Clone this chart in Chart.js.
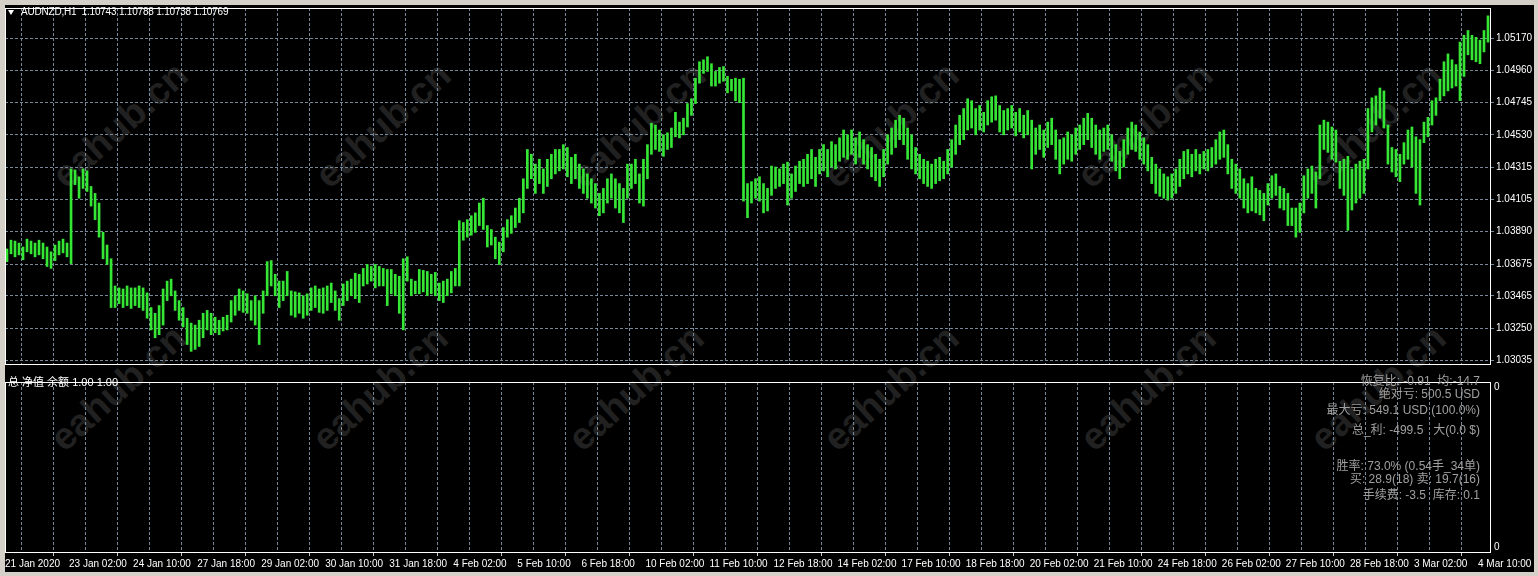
<!DOCTYPE html>
<html>
<head>
<meta charset="utf-8">
<script src="https://cdn.jsdelivr.net/npm/chart.js@4.4.0/dist/chart.umd.min.js"></script>
<style>
  html, body { margin: 0; padding: 0; }
  body { width: 1538px; height: 576px; background: #d4d0c8; position: relative; overflow: hidden; }
  #frame { position: absolute; left: 5px; top: 5px; width: 1529px; height: 567px; background: #000; }
  canvas { position: absolute; left: 0; }
  #main { top: 0; }
  #sub { top: 372px; }
  .wm { position: absolute; color: #212121; font: bold 38px 'Liberation Sans', sans-serif; transform: translate(-50%, -50%) rotate(-42deg); white-space: nowrap; }
  .txt { position: absolute; white-space: pre; line-height: 14px; }
  #tri { position: absolute; left: 8px; top: 10px; width: 0; height: 0; border-left: 3.5px solid transparent; border-right: 3.5px solid transparent; border-top: 5px solid #fff; }
  #title { left: 21px; top: 5px; color: #fff; font-size: 10px; letter-spacing: -0.2px; font-family: 'Liberation Sans', sans-serif; }
  #sublabel { left: 8px; top: 375px; color: #fff; font-size: 11px; font-family: 'Liberation Sans', 'Noto Sans CJK SC', sans-serif; }
  .info { right: 58px; text-align: right; color: #a0a0a0; font-size: 12px; font-family: 'Liberation Sans', 'Noto Sans CJK SC', sans-serif; }
</style>
</head>
<body>
<div id="frame"></div>
<div class="wm" style="left:120px;top:125px">eahub.cn</div>
<div class="wm" style="left:383px;top:125px">eahub.cn</div>
<div class="wm" style="left:638px;top:125px">eahub.cn</div>
<div class="wm" style="left:891px;top:125px">eahub.cn</div>
<div class="wm" style="left:1145px;top:125px">eahub.cn</div>
<div class="wm" style="left:1374px;top:125px">eahub.cn</div>
<div class="wm" style="left:118px;top:388px">eahub.cn</div>
<div class="wm" style="left:380px;top:388px">eahub.cn</div>
<div class="wm" style="left:636px;top:388px">eahub.cn</div>
<div class="wm" style="left:891px;top:388px">eahub.cn</div>
<div class="wm" style="left:1148px;top:388px">eahub.cn</div>
<div class="wm" style="left:1378px;top:388px">eahub.cn</div>
<canvas id="main" width="1538" height="372"></canvas>
<canvas id="sub" width="1538" height="204"></canvas>
<div id="tri"></div>
<div id="title" class="txt">AUDNZD,H1  1.10743 1.10788 1.10738 1.10769</div>
<div id="sublabel" class="txt">总 净值 余额 1.00 1.00</div>
<div class="txt info" style="top:374px">恢复比: -0.91  均:-14.7</div>
<div class="txt info" style="top:387px">绝对亏: 500.5 USD</div>
<div class="txt info" style="top:403px">最大亏: 549.1 USD (100.0%)</div>
<div class="txt info" style="top:423px">总_利: -499.5   大(0.0 $)</div>
<div class="txt info" style="top:459px">胜率: 73.0% (0.54手_34单)</div>
<div class="txt info" style="top:472px">买: 28.9(18) 卖: 19.7(16)</div>
<div class="txt info" style="top:488px">手续费: -3.5  库存: 0.1</div>
<script>
// time axis labels, one every 16 two-hour bars
const timeLabels = ['21 Jan 2020', '23 Jan 02:00', '24 Jan 10:00', '27 Jan 18:00', '29 Jan 02:00', '30 Jan 10:00',
  '31 Jan 18:00', '4 Feb 02:00', '5 Feb 10:00', '6 Feb 18:00', '10 Feb 02:00', '11 Feb 10:00', '12 Feb 18:00',
  '14 Feb 02:00', '17 Feb 10:00', '18 Feb 18:00', '20 Feb 02:00', '21 Feb 10:00', '24 Feb 18:00', '26 Feb 02:00',
  '27 Feb 10:00', '28 Feb 18:00', '3 Mar 02:00', '4 Mar 10:00'];

const priceTicks = [1.03035, 1.03250, 1.03465, 1.03675, 1.03890, 1.04105, 1.04315, 1.04530, 1.04745, 1.04960, 1.05170];

// AUDNZD bar highs / lows (2h per bar)
const barHigh = [
  1.03775, 1.03833, 1.03827, 1.03814, 1.03788, 1.03840, 1.03827, 1.03814,
  1.03833, 1.03814, 1.03788, 1.03756, 1.03801, 1.03827, 1.03840, 1.03814,
  1.04305, 1.04298, 1.04253, 1.04305, 1.04292, 1.04189, 1.04143, 1.04079,
  1.03885, 1.03801, 1.03710, 1.03530, 1.03517, 1.03510, 1.03530, 1.03517,
  1.03517, 1.03530, 1.03517, 1.03484, 1.03387, 1.03349, 1.03400, 1.03510,
  1.03562, 1.03575, 1.03497, 1.03433, 1.03387, 1.03316, 1.03284, 1.03271,
  1.03303, 1.03349, 1.03368, 1.03349, 1.03323, 1.03303, 1.03323, 1.03336,
  1.03433, 1.03465, 1.03510, 1.03497, 1.03478, 1.03433, 1.03465, 1.03433,
  1.03497, 1.03691, 1.03698, 1.03607, 1.03562, 1.03562, 1.03626, 1.03497,
  1.03491, 1.03484, 1.03465, 1.03478, 1.03517, 1.03530, 1.03510, 1.03517,
  1.03530, 1.03549, 1.03497, 1.03446, 1.03543, 1.03562, 1.03575, 1.03614,
  1.03607, 1.03646, 1.03672, 1.03659, 1.03672, 1.03659, 1.03646, 1.03639,
  1.03639, 1.03607, 1.03594, 1.03710, 1.03723, 1.03575, 1.03562, 1.03639,
  1.03633, 1.03626, 1.03607, 1.03620, 1.03549, 1.03562, 1.03575, 1.03626,
  1.03646, 1.03962, 1.03950, 1.03969, 1.03995, 1.04014, 1.04079, 1.04111,
  1.03930, 1.03904, 1.03853, 1.03820, 1.03917, 1.03969, 1.03995, 1.04046,
  1.04111, 1.04240, 1.04434, 1.04402, 1.04337, 1.04369, 1.04305, 1.04369,
  1.04402, 1.04434, 1.04434, 1.04466, 1.04447, 1.04382, 1.04402, 1.04337,
  1.04305, 1.04272, 1.04240, 1.04208, 1.04143, 1.04176, 1.04240, 1.04272,
  1.04240, 1.04208, 1.04176, 1.04337, 1.04337, 1.04369, 1.04272, 1.04369,
  1.04466, 1.04608, 1.04596, 1.04563, 1.04531, 1.04544, 1.04576, 1.04680,
  1.04615, 1.04641, 1.04738, 1.04770, 1.04906, 1.05015, 1.05028, 1.05048,
  1.05002, 1.04951, 1.04977, 1.04983, 1.04918, 1.04899, 1.04906, 1.04899,
  1.04906, 1.04208, 1.04221, 1.04240, 1.04253, 1.04208, 1.04176, 1.04324,
  1.04318, 1.04305, 1.04337, 1.04350, 1.04272, 1.04324, 1.04356, 1.04369,
  1.04402, 1.04434, 1.04382, 1.04434, 1.04466, 1.04434, 1.04486, 1.04466,
  1.04511, 1.04563, 1.04531, 1.04563, 1.04511, 1.04550, 1.04499, 1.04466,
  1.04447, 1.04402, 1.04369, 1.04434, 1.04531, 1.04576, 1.04628, 1.04660,
  1.04641, 1.04576, 1.04531, 1.04447, 1.04402, 1.04369, 1.04356, 1.04337,
  1.04369, 1.04382, 1.04356, 1.04434, 1.04499, 1.04596, 1.04660, 1.04705,
  1.04770, 1.04757, 1.04705, 1.04725, 1.04680, 1.04757, 1.04783, 1.04789,
  1.04725, 1.04692, 1.04705, 1.04725, 1.04680, 1.04705, 1.04660, 1.04692,
  1.04628, 1.04576, 1.04596, 1.04563, 1.04615, 1.04641, 1.04563, 1.04499,
  1.04511, 1.04550, 1.04531, 1.04576, 1.04596, 1.04641, 1.04673, 1.04641,
  1.04596, 1.04563, 1.04576, 1.04596, 1.04531, 1.04466, 1.04421, 1.04499,
  1.04576, 1.04615, 1.04596, 1.04550, 1.04511, 1.04466, 1.04382, 1.04337,
  1.04305, 1.04272, 1.04253, 1.04272, 1.04305, 1.04369, 1.04421, 1.04434,
  1.04402, 1.04434, 1.04402, 1.04421, 1.04434, 1.04447, 1.04499, 1.04550,
  1.04563, 1.04466, 1.04369, 1.04337, 1.04305, 1.04240, 1.04208, 1.04253,
  1.04176, 1.04163, 1.04143, 1.04208, 1.04260, 1.04272, 1.04189, 1.04176,
  1.04143, 1.04046, 1.04046, 1.04079, 1.04260, 1.04305, 1.04324, 1.04285,
  1.04596, 1.04628, 1.04615, 1.04583, 1.04563, 1.04356, 1.04369, 1.04389,
  1.04305, 1.04337, 1.04356, 1.04369, 1.04705, 1.04776, 1.04789, 1.04841,
  1.04822, 1.04596, 1.04447, 1.04434, 1.04402, 1.04479, 1.04563, 1.04583,
  1.04518, 1.04499, 1.04615, 1.04647, 1.04757, 1.04776, 1.04899, 1.05015,
  1.05067, 1.05028, 1.04996, 1.05145, 1.05190, 1.05222, 1.05190, 1.05177,
  1.05158, 1.05222, 1.05319
];
const barLow = [
  1.03691, 1.03743, 1.03723, 1.03736, 1.03704, 1.03756, 1.03743, 1.03723,
  1.03736, 1.03710, 1.03659, 1.03646, 1.03698, 1.03736, 1.03749, 1.03723,
  1.03678, 1.04201, 1.04111, 1.04176, 1.04156, 1.04059, 1.03969, 1.03853,
  1.03710, 1.03672, 1.03387, 1.03387, 1.03413, 1.03387, 1.03400, 1.03381,
  1.03400, 1.03387, 1.03368, 1.03316, 1.03239, 1.03187, 1.03207, 1.03271,
  1.03433, 1.03465, 1.03368, 1.03303, 1.03258, 1.03142, 1.03097, 1.03110,
  1.03129, 1.03187, 1.03239, 1.03207, 1.03220, 1.03207, 1.03232, 1.03239,
  1.03291, 1.03336, 1.03368, 1.03355, 1.03349, 1.03303, 1.03271, 1.03142,
  1.03349, 1.03465, 1.03530, 1.03465, 1.03387, 1.03433, 1.03465, 1.03336,
  1.03323, 1.03349, 1.03316, 1.03336, 1.03368, 1.03387, 1.03355, 1.03349,
  1.03368, 1.03420, 1.03368, 1.03303, 1.03400, 1.03433, 1.03465, 1.03446,
  1.03420, 1.03530, 1.03543, 1.03562, 1.03517, 1.03530, 1.03530, 1.03400,
  1.03478, 1.03465, 1.03349, 1.03239, 1.03562, 1.03465, 1.03478, 1.03478,
  1.03491, 1.03465, 1.03478, 1.03465, 1.03433, 1.03420, 1.03465, 1.03484,
  1.03530, 1.03530, 1.03833, 1.03853, 1.03866, 1.03885, 1.03930, 1.03904,
  1.03788, 1.03801, 1.03710, 1.03672, 1.03756, 1.03853, 1.03878, 1.03917,
  1.03950, 1.04014, 1.04176, 1.04240, 1.04143, 1.04208, 1.04143, 1.04189,
  1.04240, 1.04272, 1.04292, 1.04305, 1.04253, 1.04208, 1.04240, 1.04176,
  1.04143, 1.04111, 1.04079, 1.04046, 1.03995, 1.04014, 1.04079, 1.04111,
  1.04046, 1.04014, 1.03950, 1.04111, 1.04176, 1.04208, 1.04079, 1.04059,
  1.04240, 1.04402, 1.04434, 1.04421, 1.04389, 1.04434, 1.04447, 1.04518,
  1.04511, 1.04531, 1.04583, 1.04660, 1.04738, 1.04873, 1.04938, 1.04951,
  1.04854, 1.04854, 1.04873, 1.04886, 1.04809, 1.04822, 1.04757, 1.04744,
  1.04092, 1.03982, 1.04079, 1.04111, 1.04092, 1.04014, 1.04027, 1.04130,
  1.04176, 1.04189, 1.04208, 1.04066, 1.04111, 1.04156, 1.04208, 1.04189,
  1.04208, 1.04240, 1.04189, 1.04272, 1.04292, 1.04253, 1.04318, 1.04305,
  1.04356, 1.04382, 1.04369, 1.04402, 1.04337, 1.04382, 1.04337, 1.04305,
  1.04253, 1.04227, 1.04189, 1.04253, 1.04337, 1.04402, 1.04447, 1.04499,
  1.04466, 1.04369, 1.04305, 1.04272, 1.04240, 1.04208, 1.04189, 1.04176,
  1.04208, 1.04227, 1.04240, 1.04272, 1.04318, 1.04402, 1.04466, 1.04499,
  1.04563, 1.04576, 1.04531, 1.04563, 1.04550, 1.04596, 1.04615, 1.04628,
  1.04550, 1.04531, 1.04563, 1.04576, 1.04524, 1.04550, 1.04511, 1.04531,
  1.04305, 1.04402, 1.04434, 1.04382, 1.04447, 1.04466, 1.04369, 1.04272,
  1.04337, 1.04369, 1.04356, 1.04402, 1.04434, 1.04466, 1.04499, 1.04447,
  1.04402, 1.04369, 1.04421, 1.04434, 1.04356, 1.04292, 1.04240, 1.04318,
  1.04402, 1.04434, 1.04421, 1.04369, 1.04337, 1.04292, 1.04208, 1.04143,
  1.04124, 1.04111, 1.04098, 1.04111, 1.04143, 1.04189, 1.04240, 1.04272,
  1.04253, 1.04292, 1.04272, 1.04305, 1.04292, 1.04318, 1.04337, 1.04369,
  1.04382, 1.04272, 1.04176, 1.04143, 1.04111, 1.04046, 1.04014, 1.04027,
  1.04014, 1.04001, 1.03962, 1.04066, 1.04111, 1.04130, 1.04046, 1.04033,
  1.03930, 1.03930, 1.03853, 1.03885, 1.04014, 1.04111, 1.04143, 1.04046,
  1.04240, 1.04434, 1.04415, 1.04369, 1.04350, 1.04176, 1.04130, 1.03898,
  1.04033, 1.04079, 1.04111, 1.04143, 1.04305, 1.04550, 1.04596, 1.04641,
  1.04576, 1.04337, 1.04285, 1.04253, 1.04221, 1.04337, 1.04369, 1.04318,
  1.04143, 1.04066, 1.04479, 1.04518, 1.04596, 1.04660, 1.04757, 1.04789,
  1.04822, 1.04841, 1.04854, 1.04757, 1.04918, 1.05061, 1.05028, 1.05015,
  1.05002, 1.05080, 1.05145
];

const gridColor = '#778899';
const tickFont = { family: "'Liberation Sans', sans-serif", size: 10 };

// white frame round each plot area
const plotFrame = {
    id: 'plotFrame',
    afterDraw(chart) {
        const a = chart.chartArea;
        const c = chart.ctx;
        c.save();
        c.strokeStyle = '#ffffff';
        c.lineWidth = 1;
        c.setLineDash([]);
        c.strokeRect(a.left + 0.5, a.top + 0.5, a.right - a.left, a.bottom - a.top);
        c.restore();
    }
};

function timeAxis(withLabels) {
    return {
        type: 'linear',
        min: 0,
        max: barHigh.length,
        offset: false,
        afterBuildTicks: function (scale) {
            const t = [];
            for (let v = 0; v < barHigh.length; v += 8) t.push({ value: v });
            scale.ticks = t;
        },
        afterFit: function (scale) { scale.height = withLabels ? 24 : 0; },
        grid: {
            color: gridColor,
            drawTicks: withLabels,
            tickLength: 4,
            tickColor: (ctx) => (ctx.tick && ctx.tick.value % 16 === 0) ? '#c8c8c8' : 'rgba(0,0,0,0)'
        },
        border: { display: false, dash: [3, 2] },
        ticks: {
            display: withLabels,
            autoSkip: false,
            maxRotation: 0,
            align: 'start',
            padding: 2,
            color: '#ffffff',
            font: tickFont,
            callback: (v) => v % 16 === 0 ? timeLabels[v / 16] : ''
        }
    };
}

new Chart(document.getElementById('main').getContext('2d'), {
    type: 'bar',
    data: {
        datasets: [{
            label: 'AUDNZD,H1',
            data: barHigh.map((h, i) => ({ x: i + 0.5, y: [barLow[i], h] })),
            backgroundColor: '#35e635',
            borderWidth: 0,
            barThickness: 2
        }]
    },
    options: {
        responsive: false,
        animation: false,
        devicePixelRatio: 1,
        layout: { padding: { left: 5, top: 5, right: 2, bottom: 2 } },
        plugins: { legend: { display: false }, tooltip: { enabled: false } },
        scales: {
            x: timeAxis(false),
            y: {
                position: 'right',
                min: 1.03013,
                max: 1.05371,
                afterBuildTicks: function (scale) { scale.ticks = priceTicks.map(v => ({ value: v })); },
                afterFit: function (scale) { scale.width = 46; },
                grid: { color: gridColor, tickLength: 4, tickColor: gridColor },
                border: { display: false, dash: [3, 2] },
                ticks: { color: '#ffffff', padding: 2, font: tickFont, callback: (v) => v.toFixed(5) }
            }
        }
    },
    plugins: [plotFrame]
});

new Chart(document.getElementById('sub').getContext('2d'), {
    type: 'bar',
    data: { datasets: [] },
    options: {
        responsive: false,
        animation: false,
        devicePixelRatio: 1,
        layout: { padding: { left: 5, top: 1, right: 2, bottom: 0 } },
        plugins: { legend: { display: false }, tooltip: { enabled: false } },
        scales: {
            x: timeAxis(true),
            y: {
                position: 'right',
                min: -0.03,
                max: 1.035,
                afterBuildTicks: function (scale) { scale.ticks = [{ value: 0 }, { value: 1 }]; },
                afterFit: function (scale) { scale.width = 46; },
                grid: { display: false, drawTicks: false },
                border: { display: false },
                ticks: { color: '#ffffff', padding: 4, font: tickFont, callback: () => '0' }
            }
        }
    },
    plugins: [plotFrame]
});
</script>
</body>
</html>
